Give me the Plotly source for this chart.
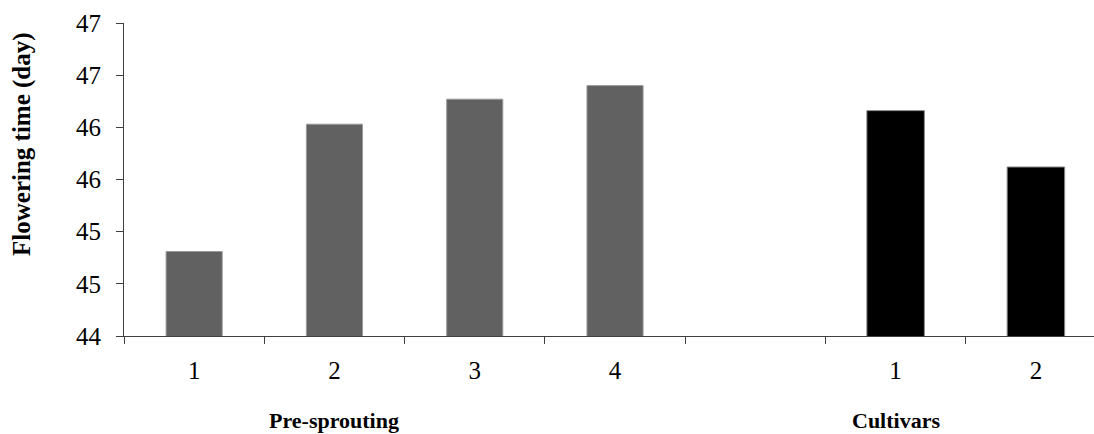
import plotly.graph_objects as go

# Flowering time by pre-sprouting treatment and by cultivar
presprout_labels = ["1", "2", "3", "4"]
presprout_days = [44.81, 46.03, 46.27, 46.40]

cultivar_labels = ["1", "2"]
cultivar_days = [46.16, 45.62]

y_tick_values = [44.0, 44.5, 45.0, 45.5, 46.0, 46.5, 47.0]
y_tick_labels = ["44", "45", "45", "46", "46", "47", "47"]

group_names = ["Pre-sprouting", "Cultivars"]

FONT = "Liberation Serif"

# slot positions: four treatments, one empty slot, then the two cultivars
pre_x = list(range(len(presprout_labels)))
cul_start = len(presprout_labels) + 1
cul_x = [cul_start + i for i in range(len(cultivar_labels))]

fig = go.Figure()
fig.add_trace(go.Bar(
    x=pre_x, y=presprout_days, width=0.4,
    marker=dict(color="#616161", line=dict(color="#9a9a9a", width=1)),
    showlegend=False,
))
fig.add_trace(go.Bar(
    x=cul_x, y=cultivar_days, width=0.41,
    marker=dict(color="#000000", line=dict(color="#8a8a8a", width=1)),
    showlegend=False,
))

fig.update_layout(
    width=1094, height=434,
    margin=dict(l=124, r=0, t=23, b=98),
    paper_bgcolor="white", plot_bgcolor="white",
    font=dict(family=FONT, color="#000000"),
    xaxis=dict(
        range=[-0.5, 6.414],
        tickmode="array",
        tickvals=pre_x + cul_x,
        ticktext=presprout_labels + cultivar_labels,
        ticks="",
        tickfont=dict(size=25, family=FONT, color="#000"),
        ticklabelstandoff=12,
        showline=True, linecolor="#404040", linewidth=1,
        showgrid=False, zeroline=False,
        minor=dict(tickmode="linear", tick0=-0.5, dtick=1,
                   ticks="outside", ticklen=7, tickcolor="#404040",
                   tickwidth=1, showgrid=False),
    ),
    yaxis=dict(
        range=[44, 47],
        tickmode="array",
        tickvals=y_tick_values,
        ticktext=y_tick_labels,
        ticks="outside", ticklen=7, tickcolor="#404040", tickwidth=1,
        tickfont=dict(size=25, family=FONT, color="#000"),
        ticklabelstandoff=10,
        showline=True, linecolor="#404040", linewidth=1,
        showgrid=False, zeroline=False,
    ),
)

fig.add_annotation(
    text="<b>Flowering time (day)</b>", textangle=-90,
    xref="paper", yref="paper", x=-0.1057, y=0.615,
    xanchor="center", yanchor="middle", showarrow=False,
    font=dict(size=25, family=FONT, color="#000"),
)

for name, xpos in zip(group_names, [pre_x[1], cul_x[0]]):
    fig.add_annotation(
        text=f"<b>{name}</b>", x=xpos, xref="x",
        y=-0.27, yref="paper", yanchor="middle",
        showarrow=False,
        font=dict(size=22, family=FONT, color="#000"),
    )

fig.write_html("out.html")
